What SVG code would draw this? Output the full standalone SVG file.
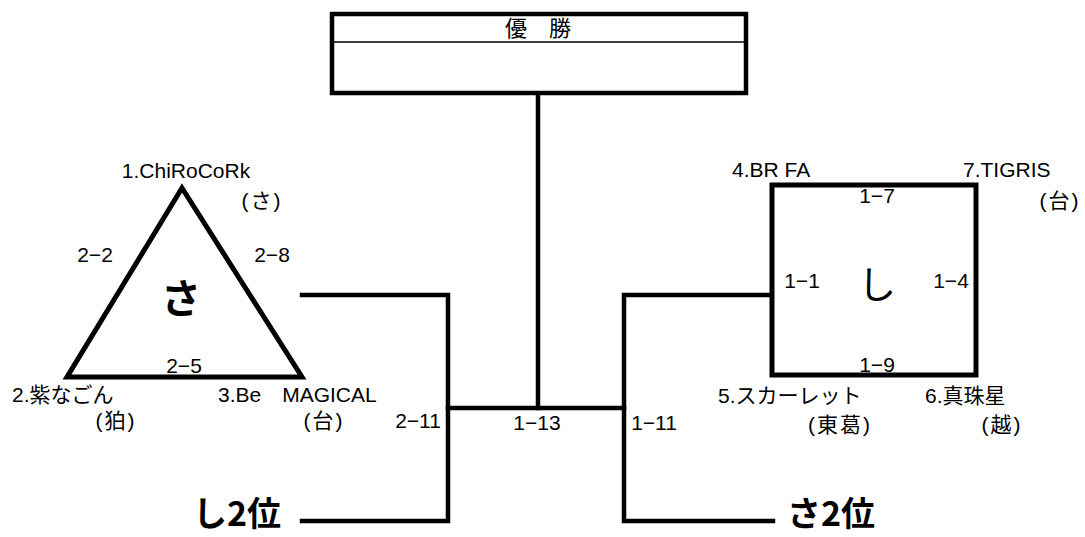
<svg xmlns="http://www.w3.org/2000/svg" width="1085" height="537" viewBox="0 0 1085 537">
<style>
.t{font-family:"Liberation Sans","Noto Sans CJK JP",sans-serif;font-size:21px;fill:#000}
.m{text-anchor:middle}
.p{letter-spacing:2px}
.big{font-family:"Noto Sans CJK JP","Liberation Sans",sans-serif;fill:#000}
.ln{stroke:#000;stroke-width:4.5;fill:none;stroke-linecap:square}
.shape{stroke:#000;stroke-width:5;fill:#fff;stroke-linejoin:miter}
</style>
<rect width="1085" height="537" fill="#fff"/>
<g id="connectors">
<polyline class="ln" points="302,295 448,295 448,521 302,521"/>
<polyline class="ln" points="772,295 624,295 624,521 773,521"/>
<line class="ln" x1="448" y1="408" x2="624" y2="408"/>
<line class="ln" x1="538" y1="95" x2="538" y2="408"/>
</g>
<g id="champion">
<rect x="332" y="14" width="414" height="79" fill="#fff" stroke="#000" stroke-width="4.5"/>
<line x1="332" y1="42" x2="746" y2="42" stroke="#000" stroke-width="1.5"/>
<text class="t m" x="538" y="36" style="font-size:22px">優　勝</text>
</g>
<g id="group-sa">
<polygon class="shape" points="182,188 302,377 67,377"/>
<text class="big m" x="181" y="296" dominant-baseline="central" font-size="40" font-weight="bold">さ</text>
<text class="t m" x="95" y="262">2−2</text>
<text class="t m" x="272" y="262">2−8</text>
<text class="t m" x="184" y="373">2−5</text>
</g>
<g id="team1"><text class="t m" x="186" y="178">1.ChiRoCoRk</text><text class="t m p" x="262" y="208">(さ)</text></g>
<g id="team2"><text class="t" x="12" y="402">2.紫なごん</text><text class="t m p" x="116" y="428">(狛)</text></g>
<g id="team3"><text class="t" x="218" y="402">3.Be　MAGICAL</text><text class="t m p" x="324" y="428">(台)</text></g>
<g id="group-shi">
<rect class="shape" x="772" y="185" width="204" height="190"/>
<text class="big m" x="877" y="281" dominant-baseline="central" font-size="38">し</text>
<text class="t m" x="877" y="203">1−7</text>
<text class="t m" x="802" y="288">1−1</text>
<text class="t m" x="951" y="288">1−4</text>
<text class="t m" x="877" y="372">1−9</text>
</g>
<g id="team4"><text class="t" x="732" y="177">4.BR FA</text></g>
<g id="team7"><text class="t" x="963" y="177">7.TIGRIS</text><text class="t m p" x="1060" y="208">(台)</text></g>
<g id="team5"><text class="t" x="718" y="403">5.スカーレット</text><text class="t m p" x="840" y="432">(東葛)</text></g>
<g id="team6"><text class="t" x="925" y="403">6.真珠星</text><text class="t m p" x="1002" y="432">(越)</text></g>
<g id="match-labels">
<text class="t m" x="418" y="428">2−11</text>
<text class="t m" x="537" y="430">1−13</text>
<text class="t m" x="654" y="430">1−11</text>
</g>
<g id="shi2"><text class="big" x="193" y="526" font-size="34" font-weight="bold">し2位</text></g>
<g id="sa2"><text class="big" x="787" y="526" font-size="34" font-weight="bold">さ2位</text></g>
</svg>
